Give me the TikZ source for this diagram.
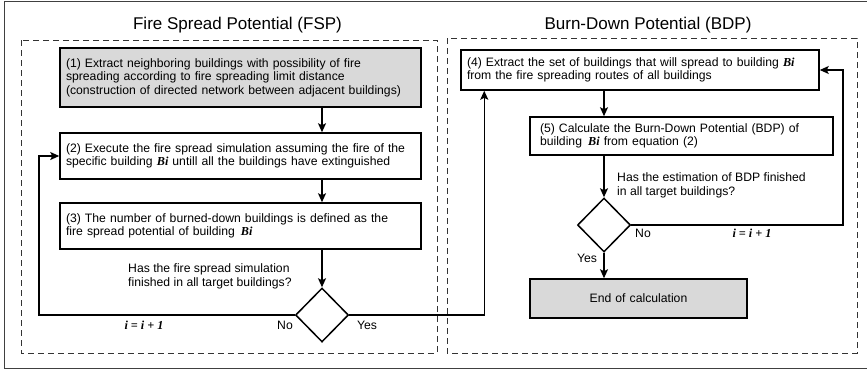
\documentclass[tikz,border=0pt]{standalone}
\usepackage{fontspec}
\setmainfont{Liberation Sans}
\newfontfamily\timesfont{Liberation Serif}
\usetikzlibrary{arrows.meta,shapes.geometric}

\newcommand{\Bi}{{\timesfont\bfseries\itshape Bi}}
\newcommand{\incr}{{\timesfont\bfseries\itshape i = i + 1}}

\tikzset{
  stepnode/.style={draw, line width=1.5pt, align=left, inner ysep=0pt, inner xsep=6pt,
    font=\fontsize{12.2}{13.4}\selectfont},
  grey/.style={fill=gray!30},
  decide/.style={diamond, draw, line width=1.5pt, minimum width=53pt, minimum height=54pt, inner sep=0pt},
  flow/.style={line width=1.5pt, ->},
  region/.style={draw=black!80, line width=0.6pt, dash pattern=on 6pt off 4pt},
  note/.style={font=\fontsize{12.2}{14}\selectfont, inner sep=0pt},
  heading/.style={font=\fontsize{17}{20}\selectfont}
}

\begin{document}
\begin{tikzpicture}[x=1pt, y=-1pt, >={Stealth[length=9pt,width=8pt,inset=2pt]}]
    \useasboundingbox (0,0) rectangle (867,370);
    % Outer frame and the two dashed regions
    \draw[line width=0.8pt, black!75] (867,1.5) -- (4,1.5) -- (4,368.5) -- (867,368.5);
    \draw[region] (21,40) rectangle (437,353);
    \draw[region] (447,38) rectangle (857,353);
    \node[heading] (fsp) at (237.5,25) {Fire Spread Potential (FSP)};
    \node[heading] (bdp) at (648,25) {Burn-Down Potential (BDP)};
    % Fire spread potential steps
    \node[stepnode, grey, text width=349pt, minimum height=59pt] (b1) at (240.5,77.5)
        {(1) Extract neighboring buildings with possibility of fire\\
         spreading according to fire spreading limit distance\\
         (construction of directed network between adjacent buildings)};
    \node[stepnode, text width=349pt, minimum height=46pt] (b2) at (240.5,156)
        {(2) Execute the fire spread simulation assuming the fire of the\\
         specific building \Bi{} untill all the buildings have extinguished};
    \node[stepnode, text width=349pt, minimum height=46pt] (b3) at (240.5,226)
        {(3) The number of burned-down buildings is defined as the\\
         fire spread potential of building \,\Bi};
    \node[decide] (d1) at (322,315) {};
    \node[note, anchor=west, align=left] (q1) at (128,276)
        {Has the fire spread simulation\\finished in all target buildings?};
    % Burn-down potential steps
    \node[stepnode, text width=346pt, minimum height=40pt] (b4) at (640,70)
        {(4) Extract the set of buildings that will spread to building \Bi\\
         from the fire spreading routes of all buildings};
    \node[stepnode, text width=283pt, inner xsep=10pt, minimum height=38pt] (b5) at (681.5,136)
        {(5) Calculate the Burn-Down Potential (BDP) of\\
         building \,\Bi{} from equation (2)};
    \node[decide] (d2) at (604,225) {};
    \node[note, anchor=west, align=left] (q2) at (617,185.5)
        {Has the estimation of BDP finished\\in all target buildings?};
    \node[stepnode, grey, align=center, text width=205pt, minimum height=39pt] (end) at (638.5,298.5)
        {End of calculation};
    % Connectors
    \coordinate (back) at (39,315);
    \draw[flow] (b1.south -| d1) -- (b2.north -| d1);
    \draw[flow] (b2.south -| d1) -- (b3.north -| d1);
    \draw[flow] (b3.south -| d1) -- (d1.north);
    \draw[flow] (d1.west) -- (back) |- (b2.west);
    \draw[flow] (d1.east) -| ([xshift=24pt]b4.south west);
    \draw[flow] (b4.south -| d2) -- (b5.north -| d2);
    \draw[flow] (b5.south -| d2) -- (d2.north);
    \draw[flow] (d2.east) -| ([xshift=23pt]b4.east) -- (b4.east);
    \draw[flow] (d2.south) -- (d2.south |- end.north);
    % Branch labels
    \node[note] (no1) at (285,325) {No};
    \node[note] (yes1) at (367,325) {Yes};
    \node[note] (inc1) at (144,325) {\incr};
    \node[note] (no2) at (643,233) {No};
    \node[note] (yes2) at (587,258) {Yes};
    \node[note] (inc2) at (752,233) {\incr};
\end{tikzpicture}
\end{document}
